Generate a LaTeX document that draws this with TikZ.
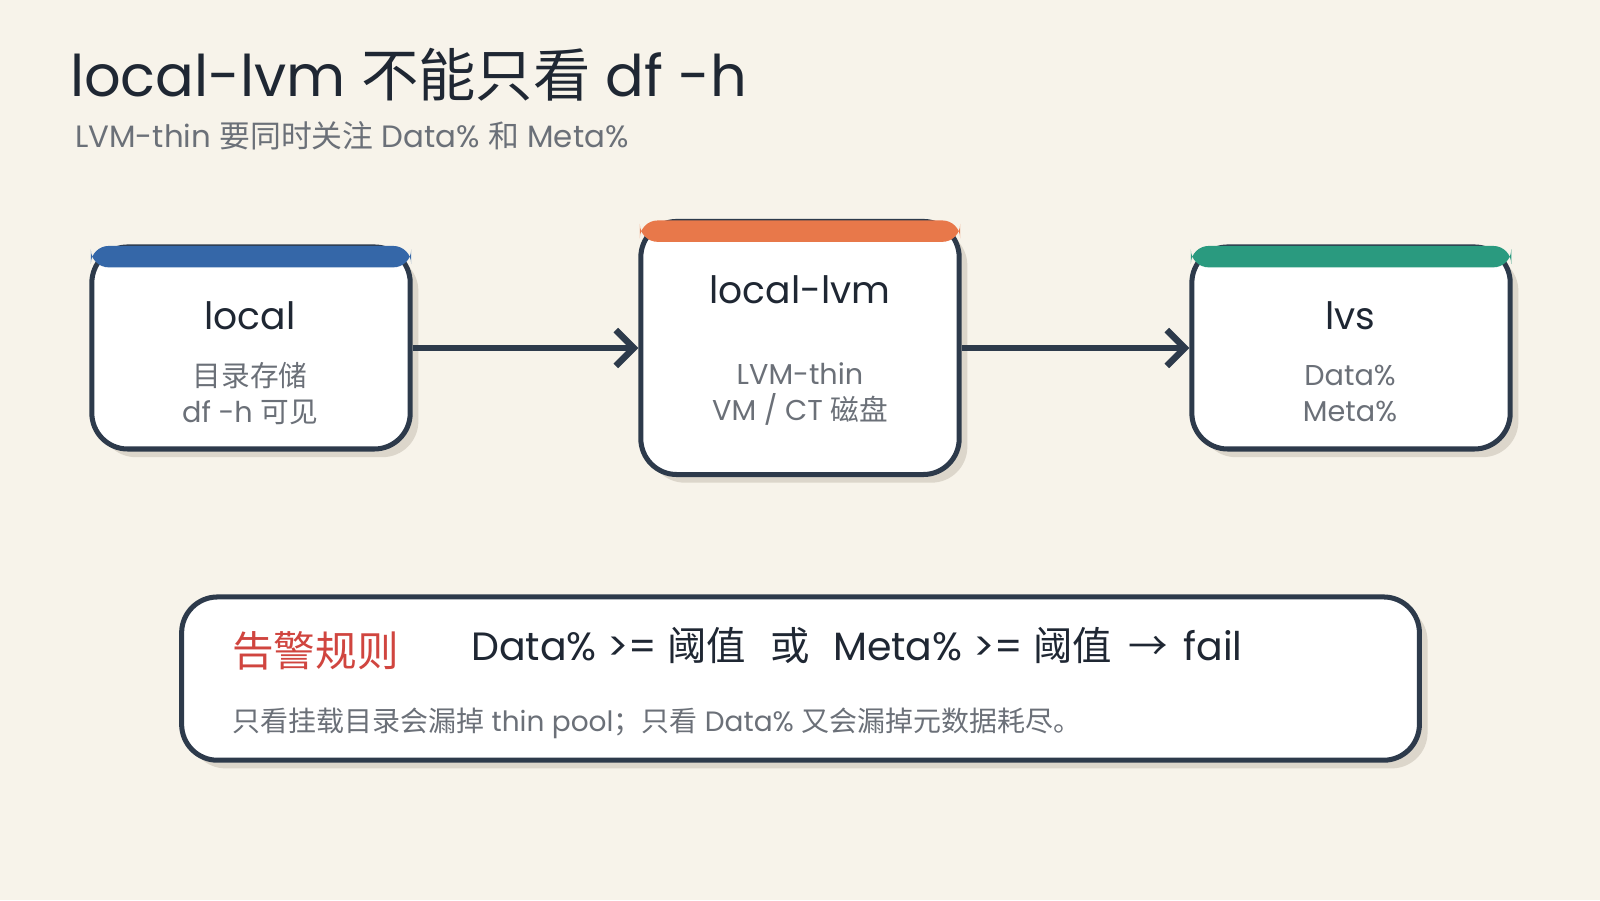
\documentclass[tikz,border=0pt]{standalone}
\usepackage{fontspec}
\setmainfont{Poppins}
\newfontfamily\cjk{Noto Sans CJK SC}
\usetikzlibrary{arrows.meta,positioning,shadows}
\definecolor{bgc}{HTML}{F7F3EA}
\definecolor{ink}{HTML}{1F2733}
\definecolor{edge}{HTML}{2D3A4B}
\definecolor{greyt}{HTML}{6B7078}
\definecolor{alarm}{HTML}{D0453F}
\definecolor{hblue}{HTML}{3567A8}
\definecolor{horange}{HTML}{E8784A}
\definecolor{hgreen}{HTML}{2A9A7F}
\definecolor{shade}{HTML}{DCD6CB}
\tikzset{
  card/.style={draw=edge,line width=1.4pt,fill=white,rounded corners=10pt,
    minimum width=3.12cm,inner sep=0pt,
    drop shadow={shadow xshift=0.08cm,shadow yshift=-0.08cm,fill=shade,opacity=1}},
  band/.style={fill=#1,rounded corners=5pt},
  head/.style={font=\fontsize{10.5}{13}\selectfont,text=ink},
  sub/.style={font=\fontsize{8}{10}\selectfont,text=greyt,align=center},
  flow/.style={draw=edge,line width=1.8pt,-{Straight Barb[length=5pt,width=10pt,line width=1.8pt]}}
}
\begin{document}
\begin{tikzpicture}[x=1cm,y=-1cm]
\useasboundingbox[fill=bgc] (0,0) rectangle (15.68,8.82);

% title
\node[anchor=base west,inner sep=0pt,text=ink,font=\fontsize{16}{19}\selectfont]
  (title) at (0.68,0.95) {local-lvm {\cjk 不能只看} df -h};
\node[anchor=base west,inner sep=0pt,text=greyt,font=\fontsize{8.6}{11}\selectfont]
  (subtitle) at (0.73,1.45) {LVM-thin {\cjk 要同时关注} Data\% {\cjk 和} Meta\%};

% cards
\node[card,minimum height=1.98cm] (local) at (2.46,3.41) {};
\node[card,minimum height=2.48cm] (lvm) at (7.84,3.41) {};
\node[card,minimum height=1.98cm] (lvs) at (13.24,3.41) {};

\fill[band=hblue] (0.89,2.41) rectangle (4.03,2.62);
\fill[band=horange] (6.27,2.16) rectangle (9.41,2.37);
\fill[band=hgreen] (11.67,2.41) rectangle (14.81,2.62);

\node[head] (localt) at (2.45,3.09) {local};
\node[sub] (locals) at (2.45,3.86) {{\cjk 目录存储}\\df -h {\cjk 可见}};
\node[head] (lvmt) at (7.84,2.84) {local-lvm};
\node[sub] (lvms) at (7.84,3.86) {LVM-thin\\VM / CT {\cjk 磁盘}};
\node[head] (lvst) at (13.23,3.09) {lvs};
\node[sub] (lvss) at (13.23,3.86) {Data\%\\Meta\%};

\draw[flow] (local.east) -- (lvm.west);
\draw[flow] (lvm.east) -- (lvs.west);

% rule box
\node[card,minimum width=12.13cm,minimum height=1.6cm] (rule) at (7.845,6.65) {};
\node[anchor=base west,inner sep=0pt,text=alarm,font=\cjk\fontsize{11.6}{14}\selectfont]
  (rulet) at (2.27,6.53) {告警规则};
\node[anchor=base west,inner sep=0pt,text=ink,font=\fontsize{11}{14}\selectfont]
  (rulex) at (4.61,6.47) {Data\% >= {\cjk 阈值}\hspace{0.6em}{\cjk 或}\hspace{0.6em}Meta\% >= {\cjk 阈值}\hspace{0.4em}{\cjk →}\hspace{0.4em}fail};
\node[anchor=base west,inner sep=0pt,text=greyt,font=\fontsize{7.8}{10}\selectfont]
  (rulen) at (2.27,7.17) {{\cjk 只看挂载目录会漏掉} thin pool{\cjk ；只看} Data\% {\cjk 又会漏掉元数据耗尽。}};
\end{tikzpicture}
\end{document}
